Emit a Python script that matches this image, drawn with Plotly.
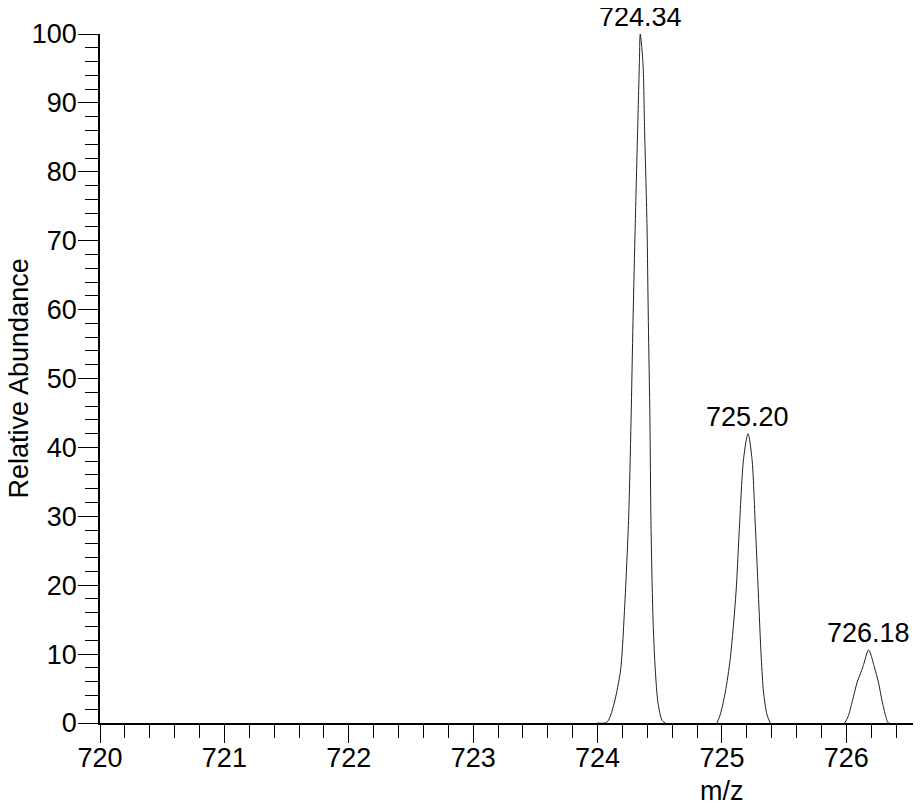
import plotly.graph_objects as go

# ---- data ----
mz_peak1 = [724.00, 724.062, 724.088, 724.134, 724.185, 724.212, 724.249, 724.269, 724.285,
            724.303, 724.322, 724.336, 724.343, 724.365, 724.378, 724.397, 724.408, 724.421,
            724.429, 724.446, 724.464, 724.486, 724.518, 724.544]
ab_peak1 = [0, 0, 0.4, 2.9, 7.7, 14.9, 29.4, 43.9, 58.4,
            72.5, 86.0, 95.7, 100.0, 95.7, 86.0, 72.5, 58.4, 43.9,
            29.4, 14.9, 7.7, 2.9, 0.4, 0]

mz_peak2 = [724.960, 724.986, 725.027, 725.067, 725.113, 725.141, 725.174, 725.209,
            725.241, 725.268, 725.292, 725.316, 725.334, 725.362, 725.388]
ab_peak2 = [0, 1.2, 4.5, 9.4, 19.0, 28.7, 38.4, 42.0,
            38.4, 28.7, 19.0, 9.4, 4.5, 1.2, 0]

mz_peak3 = [725.986, 726.013, 726.050, 726.085, 726.134, 726.179,
            726.224, 726.259, 726.286, 726.318, 726.339, 726.60]
ab_peak3 = [0, 0.9, 3.3, 5.8, 8.2, 10.6,
            8.2, 5.8, 3.3, 0.9, 0, 0]

label_mz = [724.343, 725.209, 726.179]
label_ab = [100.0, 42.0, 10.6]
label_text = ["724.34", "725.20", "726.18"]

x_tick_vals = [720, 721, 722, 723, 724, 725, 726]
y_tick_vals = [0, 10, 20, 30, 40, 50, 60, 70, 80, 90, 100]

FONT = "Liberation Sans, Arial, sans-serif"

fig = go.Figure()
for xs, ys in [(mz_peak1, ab_peak1), (mz_peak2, ab_peak2), (mz_peak3, ab_peak3)]:
    fig.add_trace(go.Scatter(
        x=xs, y=ys, mode="lines",
        line=dict(color="#222222", width=1, shape="spline", smoothing=0.8),
        cliponaxis=False, showlegend=False, hoverinfo="skip",
    ))

annotations = []
for x, y, t in zip(label_mz, label_ab, label_text):
    annotations.append(dict(x=x, y=y, text=t, showarrow=False, xanchor="center",
                            yanchor="bottom", yshift=0,
                            font=dict(family=FONT, size=27, color="black")))
annotations.append(dict(x=725.0, y=0, xref="x", yref="y", text="m/z", showarrow=False,
                        xanchor="center", yanchor="middle", yshift=-68,
                        font=dict(family=FONT, size=27, color="black")))
annotations.append(dict(x=0, y=0.5, xref="paper", yref="paper", text="Relative Abundance",
                        showarrow=False, textangle=-90, xanchor="center", yanchor="middle",
                        xshift=-82,
                        font=dict(family=FONT, size=27, color="black")))

# the page body adds an 8px margin; size the figure to fit the window
fig.update_layout(
    width=913, height=793,
    margin=dict(l=92, r=0, t=26, b=78, pad=0, autoexpand=False),
    paper_bgcolor="white", plot_bgcolor="white",
    font=dict(family=FONT, size=27, color="black"),
    annotations=annotations,
    xaxis=dict(
        range=[720, 726.6], tickvals=x_tick_vals, ticktext=[str(v) for v in x_tick_vals],
        ticks="outside", ticklen=18, tickwidth=1.3, tickcolor="black",
        minor=dict(dtick=0.2, tick0=720, ticks="outside", ticklen=13, tickwidth=1.3,
                   tickcolor="black", showgrid=False),
        showline=True, linecolor="black", linewidth=1.5,
        showgrid=False, zeroline=False, automargin=False,
        ticklabelstandoff=-8,
        tickfont=dict(family=FONT, size=27, color="black"),
    ),
    yaxis=dict(
        range=[0, 100], tickvals=y_tick_vals,
        ticks="outside", ticklen=20, tickwidth=1.3, tickcolor="black",
        minor=dict(dtick=2, tick0=0, ticks="outside", ticklen=13, tickwidth=1.3,
                   tickcolor="black", showgrid=False),
        showline=True, linecolor="black", linewidth=1.5,
        showgrid=False, zeroline=False, automargin=False,
        ticklabelstandoff=-4,
        tickfont=dict(family=FONT, size=27, color="black"),
    ),
)

fig.write_html("out.html")
